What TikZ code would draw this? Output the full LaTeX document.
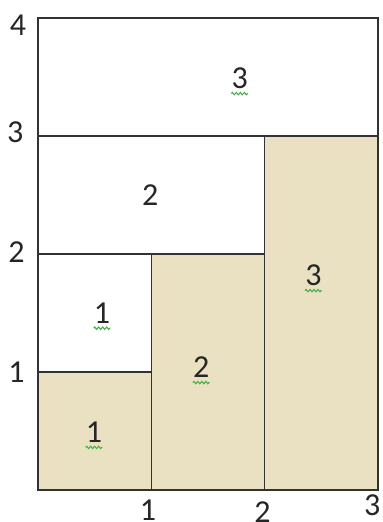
\documentclass[tikz,border=0pt]{standalone}
\usepackage{fontspec}
\setmainfont{Carlito}
\usetikzlibrary{decorations.pathmorphing}
\definecolor{sand}{RGB}{234,225,195}
\definecolor{edge}{RGB}{50,50,50}
\definecolor{squig}{RGB}{70,175,70}

\begin{document}
\begin{tikzpicture}[x=85pt,y=88.5pt,
      font=\fontsize{24}{28}\selectfont,
      cell/.style={draw=edge,line width=1.2pt},
      filled/.style={cell,fill=sand},
      num/.style={inner sep=0pt,text=black!85},
      spell/.style={num,append after command={
        \pgfextra{\draw[squig,line width=0.8pt,decorate,
          decoration={zigzag,segment length=3pt,amplitude=0.9pt}]
          ([yshift=-3.5pt]\tikzlastnode.south west) --
          ([yshift=-3.5pt]\tikzlastnode.south east);}}}]
      \useasboundingbox (-0.3354,-0.2712) rectangle (3.036,4.1525);

      % shaded columns
      \draw[filled] (0,0) rectangle (1,1);
      \draw[filled] (1,0) rectangle (2,2);
      \draw[filled] (2,0) rectangle (3,3);
      % white rows
      \draw[cell] (0,1) rectangle (1,2);
      \draw[cell] (0,2) rectangle (2,3);
      \draw[cell] (0,3) rectangle (3,4);

      % cell labels
      \node[spell] (top) at (1.78,3.49) {3};
      \node[num] (mid) at (0.99,2.5) {2};
      \node[spell] (w1) at (0.565,1.5) {1};
      \node[spell] (s1) at (0.494,0.49) {1};
      \node[spell] (s2) at (1.44,1.04) {2};
      \node[spell] (s3) at (2.43,1.82) {3};

      % axis labels
      \node[num] (y4) at (-0.177,3.94) {4};
      \node[num] (y3) at (-0.2,3.03) {3};
      \node[num] (y2) at (-0.19,2.02) {2};
      \node[num] (y1) at (-0.19,1.0) {1};
      \node[num] (x1) at (0.97,-0.17) {1};
      \node[num] (x2) at (1.98,-0.19) {2};
      \node[num] (x3) at (2.95,-0.13) {3};
\end{tikzpicture}
\end{document}
